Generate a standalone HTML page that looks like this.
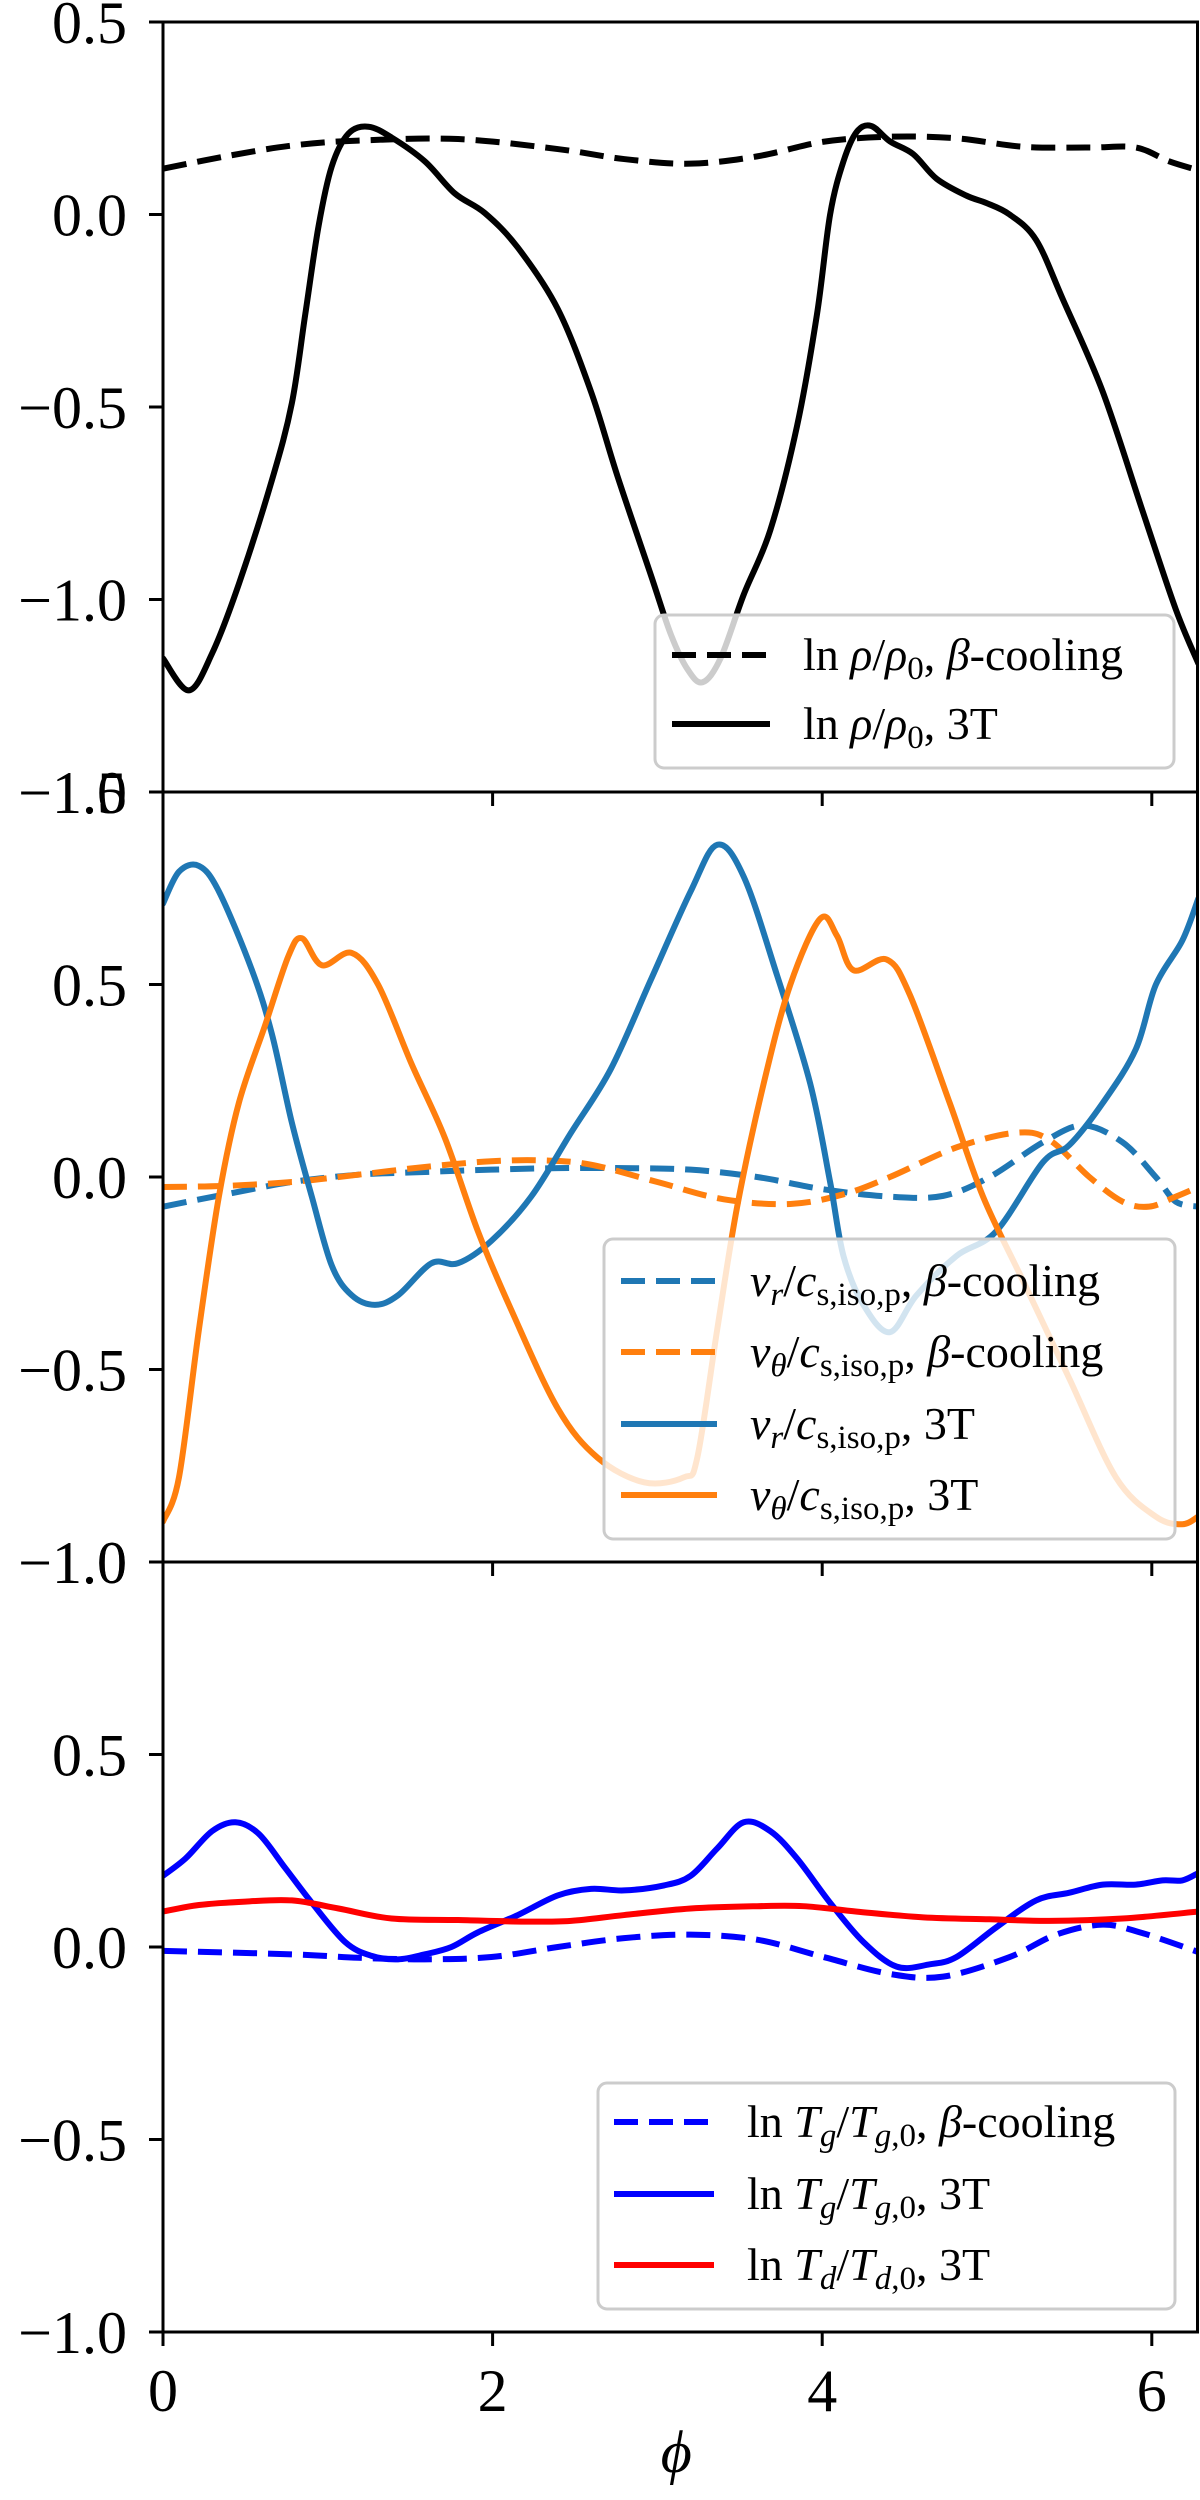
<!DOCTYPE html>
<html><head><meta charset="utf-8">
<style>
html,body{margin:0;padding:0;background:#fff;}
svg{display:block;font-family:"Liberation Serif","DejaVu Serif",serif;}
.tk{font-size:60px;fill:#000;}
.lg{font-size:46px;fill:#000;}
</style></head>
<body>
<svg id="fig" width="1200" height="2500" viewBox="0 0 1200 2500" xmlns="http://www.w3.org/2000/svg">
<g id="plots"></g>
</svg>
<script>
// ---- Panel 1: density ----
const rho3T_phi = [0,0.157,0.298,0.46,0.661,0.782,0.863,0.944,1.024,1.125,1.246,1.387,1.589,1.77,1.952,2.153,2.395,2.597,2.758,2.96,3.081,3.181,3.274,3.383,3.524,3.685,3.847,3.968,4.048,4.129,4.21,4.298,4.411,4.552,4.694,4.875,4.996,5.137,5.298,5.46,5.702,5.944,6.145,6.282];
const rho3T_val = [-1.153,-1.236,-1.14,-0.96,-0.69,-0.49,-0.26,-0.03,0.125,0.21,0.228,0.20,0.138,0.055,0.004,-0.086,-0.245,-0.46,-0.68,-0.936,-1.09,-1.18,-1.215,-1.153,-0.987,-0.82,-0.55,-0.26,0.0,0.138,0.215,0.23,0.19,0.157,0.093,0.049,0.03,0.0,-0.066,-0.22,-0.46,-0.77,-1.025,-1.166];
const rhoB_phi = [0,0.379,0.782,1.185,1.79,2.395,2.798,3.202,3.605,4.008,4.411,4.815,5.218,5.621,5.903,6.105,6.282];
const rhoB_val = [0.119,0.151,0.179,0.192,0.196,0.17,0.144,0.132,0.151,0.189,0.202,0.198,0.176,0.174,0.174,0.138,0.115];
// ---- Panel 2: velocities ----
const vr3T_phi = [0,0.097,0.218,0.339,0.540,0.661,0.782,0.903,1.024,1.145,1.286,1.427,1.629,1.790,1.992,2.234,2.476,2.718,2.960,3.202,3.363,3.524,3.726,3.927,4.048,4.129,4.25,4.411,4.573,4.815,5.056,5.339,5.5,5.702,5.903,6.024,6.185,6.282];
const vr3T_val = [0.71,0.793,0.808,0.742,0.537,0.371,0.141,-0.051,-0.23,-0.307,-0.332,-0.307,-0.224,-0.224,-0.166,-0.051,0.115,0.281,0.512,0.742,0.863,0.78,0.524,0.243,-0.013,-0.205,-0.332,-0.403,-0.307,-0.205,-0.141,0.038,0.083,0.192,0.332,0.499,0.614,0.723];
const vt3T_phi = [0,0.097,0.218,0.339,0.46,0.621,0.762,0.843,0.964,1.145,1.306,1.508,1.710,1.911,2.113,2.395,2.637,2.919,3.161,3.242,3.363,3.484,3.645,3.806,3.988,4.089,4.190,4.391,4.532,4.774,4.976,5.218,5.5,5.782,6.024,6.185,6.282];
const vt3T_val = [-0.895,-0.78,-0.396,-0.051,0.192,0.396,0.575,0.62,0.55,0.582,0.499,0.294,0.102,-0.141,-0.345,-0.601,-0.729,-0.793,-0.78,-0.729,-0.396,-0.077,0.243,0.499,0.671,0.627,0.537,0.565,0.473,0.192,-0.051,-0.269,-0.524,-0.78,-0.882,-0.902,-0.882];
const vrB_phi = [0,0.379,0.782,1.185,1.589,1.992,2.395,2.798,3.202,3.605,4.008,4.411,4.734,5.016,5.339,5.581,5.823,6.024,6.145,6.282];
const vrB_val = [-0.077,-0.045,-0.013,0.006,0.013,0.019,0.023,0.023,0.019,0,-0.032,-0.051,-0.049,0,0.09,0.134,0.09,0,-0.064,-0.077];
const vtB_phi = [0,0.379,0.782,1.185,1.589,1.992,2.315,2.597,3.0,3.403,3.806,4.129,4.411,4.815,5.177,5.379,5.621,5.823,5.984,6.145,6.282];
const vtB_val = [-0.026,-0.023,-0.013,0.006,0.026,0.041,0.043,0.032,-0.013,-0.058,-0.07,-0.045,0,0.077,0.115,0.096,0,-0.064,-0.077,-0.051,-0.026];
// ---- Panel 3: temperatures ----
const tg3T_phi = [0,0.137,0.298,0.44,0.581,0.742,0.903,1.105,1.266,1.427,1.589,1.75,1.911,2.153,2.395,2.597,2.798,3.04,3.202,3.363,3.524,3.685,3.847,4.048,4.25,4.452,4.653,4.815,5.056,5.298,5.5,5.702,5.903,6.065,6.185,6.282];
const tg3T_val = [0.185,0.23,0.301,0.324,0.294,0.205,0.115,0.013,-0.023,-0.032,-0.019,0,0.038,0.083,0.134,0.151,0.147,0.16,0.185,0.256,0.324,0.301,0.23,0.115,0.013,-0.051,-0.045,-0.026,0.051,0.121,0.141,0.162,0.162,0.173,0.173,0.192];
const td3T_phi = [0,0.218,0.5,0.782,1.065,1.387,1.79,2.194,2.476,2.798,3.202,3.605,3.887,4.21,4.613,5.016,5.379,5.823,6.282];
const td3T_val = [0.092,0.109,0.118,0.121,0.1,0.074,0.07,0.066,0.068,0.083,0.1,0.106,0.106,0.092,0.077,0.072,0.068,0.074,0.092];
const tgB_phi = [0,0.782,1.185,1.589,1.992,2.395,2.798,3.202,3.605,4.008,4.411,4.734,5.137,5.419,5.702,5.944,6.282];
const tgB_val = [-0.01,-0.019,-0.028,-0.032,-0.026,0,0.023,0.032,0.019,-0.026,-0.07,-0.077,-0.026,0.032,0.058,0.036,-0.013];
// ---- ticks ----
const xTicks = [0,2,4,6];
const yTicks1 = [0.5,0.0,-0.5,-1.0,-1.5];
const yTicks23 = [1.0,0.5,0.0,-0.5,-1.0];

const NS="http://www.w3.org/2000/svg";
const root=document.getElementById('plots');
const X0=163, XS=164.8, XR=1197.5, UNIT=385;
function xS(p){return X0+p*XS;}
function mk(tag,attrs,parent){const e=document.createElementNS(NS,tag);for(const k in attrs)e.setAttribute(k,attrs[k]);(parent||root).appendChild(e);return e;}
function pathD(px,py){
  let d='M'+px[0].toFixed(2)+','+py[0].toFixed(2);
  for(let i=0;i<px.length-1;i++){
    const x0=px[Math.max(i-1,0)],y0=py[Math.max(i-1,0)],x1=px[i],y1=py[i],x2=px[i+1],y2=py[i+1],x3=px[Math.min(i+2,px.length-1)],y3=py[Math.min(i+2,px.length-1)];
    const c1x=x1+(x2-x0)/6,c1y=y1+(y2-y0)/6,c2x=x2-(x3-x1)/6,c2y=y2-(y3-y1)/6;
    d+=' C'+c1x.toFixed(2)+','+c1y.toFixed(2)+' '+c2x.toFixed(2)+','+c2y.toFixed(2)+' '+x2.toFixed(2)+','+y2.toFixed(2);
  }
  return d;
}
function fmt(v){const s=Math.abs(v).toFixed(1);return (v<0?'\u2212':'')+s;}
const SUB='font-size="33" dy="9"', UP='dy="-9"';

const panels=[
 {top:22,ymax:0.5,ticks:yTicks1,name:'density-panel',series:[
   {phi:rhoB_phi,val:rhoB_val,color:'#000',dash:true,name:'rho-beta-cooling-line'},
   {phi:rho3T_phi,val:rho3T_val,color:'#000',dash:false,name:'rho-3t-line'}],
  legend:{x:655,y:615,w:519,h:153,rows:[655,724],hx:[672,770],tx:803,
   entries:[{color:'#000',dash:true,html:'ln <tspan font-style="italic">ρ</tspan>/<tspan font-style="italic">ρ</tspan><tspan '+SUB+'>0</tspan><tspan '+UP+'>, </tspan><tspan font-style="italic">β</tspan>-cooling',name:'legend-rho-beta-cooling'},
            {color:'#000',dash:false,html:'ln <tspan font-style="italic">ρ</tspan>/<tspan font-style="italic">ρ</tspan><tspan '+SUB+'>0</tspan><tspan '+UP+'>, 3T</tspan>',name:'legend-rho-3t'}]}},
 {top:792,ymax:1.0,ticks:yTicks23,name:'velocity-panel',series:[
   {phi:vrB_phi,val:vrB_val,color:'#1f77b4',dash:true,name:'vr-beta-cooling-line'},
   {phi:vtB_phi,val:vtB_val,color:'#ff7f0e',dash:true,name:'vtheta-beta-cooling-line'},
   {phi:vr3T_phi,val:vr3T_val,color:'#1f77b4',dash:false,name:'vr-3t-line'},
   {phi:vt3T_phi,val:vt3T_val,color:'#ff7f0e',dash:false,name:'vtheta-3t-line'}],
  legend:{x:604,y:1239,w:571,h:300,rows:[1281,1352,1424,1495],hx:[621,717],tx:750,
   entries:[{color:'#1f77b4',dash:true,html:'<tspan font-style="italic">v</tspan><tspan font-style="italic" '+SUB+'>r</tspan><tspan '+UP+'>/</tspan><tspan font-style="italic">c</tspan><tspan '+SUB+'>s,iso,p</tspan><tspan '+UP+'>, </tspan><tspan font-style="italic">β</tspan>-cooling',name:'legend-vr-beta-cooling'},
            {color:'#ff7f0e',dash:true,html:'<tspan font-style="italic">v</tspan><tspan font-style="italic" '+SUB+'>θ</tspan><tspan '+UP+'>/</tspan><tspan font-style="italic">c</tspan><tspan '+SUB+'>s,iso,p</tspan><tspan '+UP+'>, </tspan><tspan font-style="italic">β</tspan>-cooling',name:'legend-vtheta-beta-cooling'},
            {color:'#1f77b4',dash:false,html:'<tspan font-style="italic">v</tspan><tspan font-style="italic" '+SUB+'>r</tspan><tspan '+UP+'>/</tspan><tspan font-style="italic">c</tspan><tspan '+SUB+'>s,iso,p</tspan><tspan '+UP+'>, 3T</tspan>',name:'legend-vr-3t'},
            {color:'#ff7f0e',dash:false,html:'<tspan font-style="italic">v</tspan><tspan font-style="italic" '+SUB+'>θ</tspan><tspan '+UP+'>/</tspan><tspan font-style="italic">c</tspan><tspan '+SUB+'>s,iso,p</tspan><tspan '+UP+'>, 3T</tspan>',name:'legend-vtheta-3t'}]}},
 {top:1562,ymax:1.0,ticks:yTicks23,name:'temperature-panel',series:[
   {phi:tgB_phi,val:tgB_val,color:'#0000ff',dash:true,name:'tg-beta-cooling-line'},
   {phi:tg3T_phi,val:tg3T_val,color:'#0000ff',dash:false,name:'tg-3t-line'},
   {phi:td3T_phi,val:td3T_val,color:'#ff0000',dash:false,name:'td-3t-line'}],
  legend:{x:598,y:2083,w:577,h:226,rows:[2122,2194,2265],hx:[614,714],tx:747,
   entries:[{color:'#0000ff',dash:true,html:'ln <tspan font-style="italic">T</tspan><tspan font-style="italic" '+SUB+'>g</tspan><tspan '+UP+'>/</tspan><tspan font-style="italic">T</tspan><tspan '+SUB+'><tspan font-style="italic">g</tspan>,0</tspan><tspan '+UP+'>, </tspan><tspan font-style="italic">β</tspan>-cooling',name:'legend-tg-beta-cooling'},
            {color:'#0000ff',dash:false,html:'ln <tspan font-style="italic">T</tspan><tspan font-style="italic" '+SUB+'>g</tspan><tspan '+UP+'>/</tspan><tspan font-style="italic">T</tspan><tspan '+SUB+'><tspan font-style="italic">g</tspan>,0</tspan><tspan '+UP+'>, 3T</tspan>',name:'legend-tg-3t'},
            {color:'#ff0000',dash:false,html:'ln <tspan font-style="italic">T</tspan><tspan font-style="italic" '+SUB+'>d</tspan><tspan '+UP+'>/</tspan><tspan font-style="italic">T</tspan><tspan '+SUB+'><tspan font-style="italic">d</tspan>,0</tspan><tspan '+UP+'>, 3T</tspan>',name:'legend-td-3t'}]}}
];

panels.forEach((P,pi)=>{
  const g=mk('g',{});
  
  
  const yS=v=>P.top+(P.ymax-v)*UNIT;
  const bottom=P.top+770;
  const clipId='clip'+pi;
  const cp=mk('clipPath',{id:clipId},g);
  mk('rect',{x:X0,y:P.top,width:XR-X0,height:770},cp);
  const lines=mk('g',{'clip-path':'url(#'+clipId+')'},g);
  P.series.forEach(s=>{
    const px=s.phi.map(xS), py=s.val.map(yS);
    const p=mk('path',{d:pathD(px,py),fill:'none',stroke:s.color,'stroke-width':6,'stroke-linejoin':'round','stroke-linecap':s.dash?'butt':'round'},lines);
    if(s.dash)p.setAttribute('stroke-dasharray','24 11');
    
    
  });
  const L=P.legend;
  const lg=mk('g',{},g);
  
  
  mk('rect',{x:L.x,y:L.y,width:L.w,height:L.h,rx:9,fill:'#fff','fill-opacity':0.8,stroke:'#cccccc','stroke-width':3},lg);
  L.entries.forEach((e,i)=>{
    const ey=L.rows[i];
    const ln=mk('line',{x1:L.hx[0],x2:L.hx[1],y1:ey,y2:ey,stroke:e.color,'stroke-width':6},lg);
    if(e.dash)ln.setAttribute('stroke-dasharray','24 11');
    const t=mk('text',{x:L.tx,y:ey+15,class:'lg'},lg);
    t.innerHTML=e.html;
    
    
  });
  const fr=mk('rect',{x:X0,y:P.top,width:XR-X0,height:770,fill:'none',stroke:'#000','stroke-width':3},g);
  
  
  P.ticks.forEach(v=>{
    const y=yS(v);
    mk('line',{x1:X0-14,x2:X0,y1:y,y2:y,stroke:'#000','stroke-width':3},g);
    const t=mk('text',{x:127,y:y+21,class:'tk','text-anchor':'end'},g);
    t.textContent=fmt(v);
    
    
  });
  xTicks.forEach(v=>{
    const x=xS(v);
    mk('line',{x1:x,x2:x,y1:bottom,y2:bottom+14,stroke:'#000','stroke-width':3},g);
    if(pi===2){
      const t=mk('text',{x:x,y:2411,class:'tk','text-anchor':'middle'},g);
      t.textContent=String(v);
      
      
    }
  });
});
const xl=mk('text',{x:(X0+XR)/2-4,y:2472,class:'tk','text-anchor':'middle','font-style':'italic'});
xl.textContent='ϕ';


</script>
</body></html>
